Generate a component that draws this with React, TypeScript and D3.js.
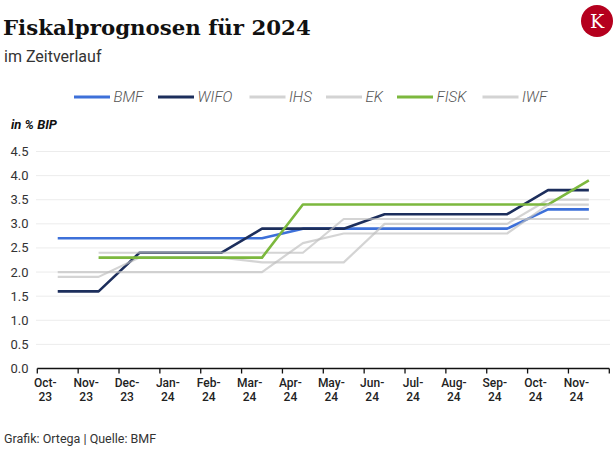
import React from "react";
import * as d3 from "d3";

const months = ["Oct-23","Nov-23","Dec-23","Jan-24","Feb-24","Mar-24","Apr-24","May-24","Jun-24","Jul-24","Aug-24","Sep-24","Oct-24","Nov-24"];
const bmf = [2.7,2.7,2.7,2.7,2.7,2.7,2.9,2.9,2.9,2.9,2.9,2.9,3.3,3.3];
const wifo = [1.6,1.6,2.4,2.4,2.4,2.9,2.9,2.9,3.2,3.2,3.2,3.2,3.7,3.7];
const ihs = [1.9,1.9,2.3,2.3,2.3,2.2,2.2,2.2,3.0,3.0,3.0,3.0,3.5,3.5];
const ek = [null,2.4,2.4,2.4,2.4,2.4,2.4,3.1,3.1,3.1,3.1,3.1,3.1,3.1];
const fisk = [null,2.3,2.3,2.3,2.3,2.3,3.4,3.4,3.4,3.4,3.4,3.4,3.4,3.9];
const iwf = [2.0,2.0,2.0,2.0,2.0,2.0,2.6,2.8,2.8,2.8,2.8,2.8,3.4,3.4];
const seriesNames = ["BMF","WIFO","IHS","EK","FISK","IWF"];
const seriesValues = [bmf, wifo, ihs, ek, fisk, iwf];
const seriesColors = ["#3d70d9","#1c2e5c","#bdbdbd","#bdbdbd","#7cb83e","#bdbdbd"];
const yTicks = [0,0.5,1,1.5,2,2.5,3,3.5,4,4.5];

export default function App() {
  const W = 616, H = 453;
  const x = d3.scaleBand<string>().domain(months).range([37.3, 609.3]);
  const y = d3.scaleLinear().domain([0, 4.5]).range([368.5, 151.5]);
  const cx = (m: string) => (x(m) as number) + x.bandwidth() / 2;
  const line = d3.line<number | null>()
    .defined((d) => d !== null)
    .x((_, i) => cx(months[i]))
    .y((d) => y(d as number));
  const legendX = [74, 158, 249.5, 326, 397, 482.5];
  const font = "Roboto, 'Noto Sans', sans-serif";
  return (
    <svg width={W} height={H} style={{ position: "absolute", left: 0, top: 0, background: "#fff" }} fontFamily={font}>
      <rect width={W} height={H} fill="#fff" />
      <text x={3} y={35} fontFamily="'DejaVu Serif', serif" fontWeight="bold" fontSize={21.3} fill="#111">Fiskalprognosen für 2024</text>
      <text x={4} y={62} fontSize={16} fill="#333">im Zeitverlauf</text>
      <circle cx={597} cy={21} r={16} fill="#b5001e" />
      <text x={597} y={28} textAnchor="middle" fontFamily="'DejaVu Serif', serif" fontSize={19} fill="#fff">K</text>
      {seriesNames.map((n, i) => (
        <g key={n}>
          <line x1={legendX[i]} x2={legendX[i] + 36} y1={97} y2={97} stroke={seriesColors[i]} strokeWidth={3} opacity={seriesColors[i] === "#bdbdbd" ? 0.65 : 1} />
          <text x={legendX[i] + 39.5} y={102} fontSize={15} fontStyle="italic" fontWeight={300} fill="#555">{n}</text>
        </g>
      ))}
      <text x={11} y={129} fontSize={13} fontWeight="bold" fontStyle="italic" fill="#111">in % BIP</text>
      {yTicks.map((t) => (
        <g key={t}>
          {t > 0 && <line x1={36} x2={610} y1={y(t)} y2={y(t)} stroke="#ececec" strokeWidth={1} />}
          <text x={28.5} y={y(t) + 4.5} textAnchor="end" fontSize={13} fill="#333">{t.toFixed(1)}</text>
        </g>
      ))}
      {seriesValues.map((vals, i) => (
        <path key={seriesNames[i]} d={line(vals) || ""} fill="none" stroke={seriesColors[i]}
          strokeWidth={seriesColors[i] === "#bdbdbd" ? 2.2 : 2.6}
          opacity={seriesColors[i] === "#bdbdbd" ? 0.65 : 1}
          strokeLinejoin="round" />
      ))}
      <line x1={37.3} x2={609.3} y1={368.5} y2={368.5} stroke="#111" strokeWidth={1.5} />
      {[...months.map((m) => x(m) as number), 609.3].map((b, i) => (
        <line key={i} x1={b} x2={b} y1={368.5} y2={373.5} stroke="#111" strokeWidth={1.3} />
      ))}
      {months.map((m) => {
        const [mon, yr] = m.split("-");
        const lx = (x(m) as number) + 8;
        return (
          <text key={m} textAnchor="middle" fontSize={12} fontWeight={500} fill="#222">
            <tspan x={lx} y={387}>{mon}-</tspan>
            <tspan x={lx} y={401}>{yr}</tspan>
          </text>
        );
      })}
      <text x={4} y={443} fontSize={12.5} fill="#333">Grafik: Ortega | Quelle: BMF</text>
    </svg>
  );
}
